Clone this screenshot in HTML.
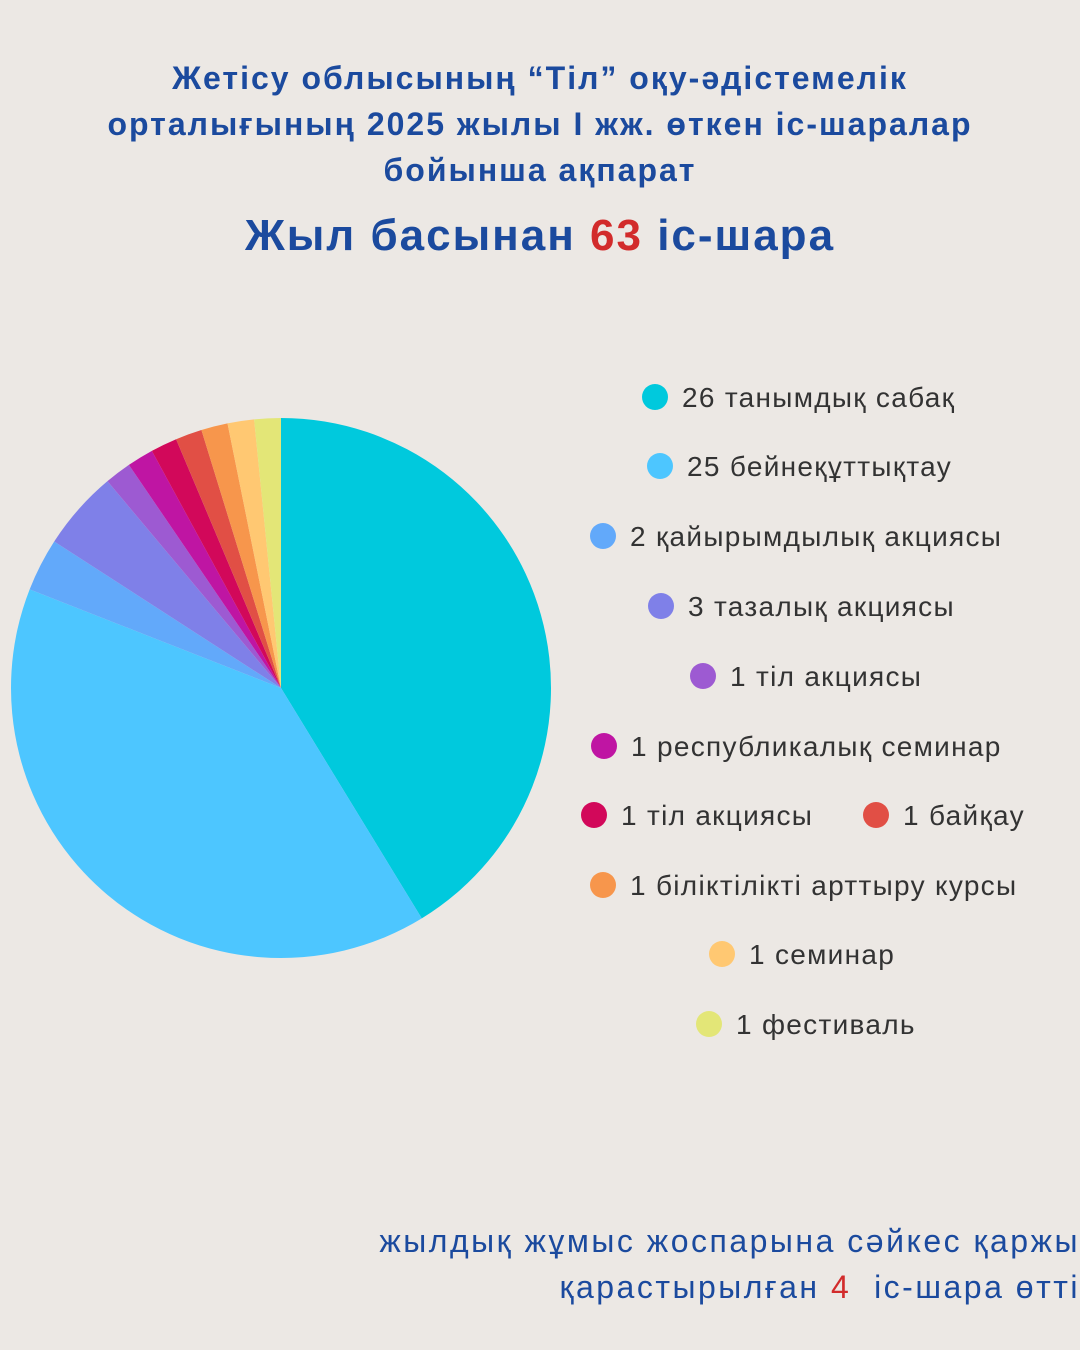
<!DOCTYPE html>
<html><head><meta charset="utf-8"><style>
body{margin:0;width:1080px;height:1350px;background:#ECE8E4;font-family:"Liberation Sans",sans-serif;overflow:hidden;position:relative}
.t{position:absolute;left:0;width:1080px;text-align:center;color:#1B4A9E;font-weight:bold;white-space:nowrap}
</style></head><body>
<div class="t" style="top:55px;font-size:32px;letter-spacing:2px;line-height:46px">Жетісу облысының “Тіл” оқу-әдістемелік<br>орталығының 2025 жылы I жж. өткен іс-шаралар<br>бойынша ақпарат</div>
<div class="t" style="top:210px;font-size:44px;letter-spacing:2px;line-height:52px">Жыл басынан <span style="color:#D22B2B">63</span> іс-шара</div>
<svg id="c" width="1080" height="1350" style="position:absolute;left:0;top:0"></svg>
<div style="position:absolute;right:0;top:1218px;text-align:right;color:#1B4A9E;font-size:32px;letter-spacing:2.5px;line-height:46px;white-space:nowrap">жылдық жұмыс жоспарына сәйкес қаржы<br>қарастырылған <span style="color:#D22B2B">4</span>&nbsp; іс-шара өтті</div>
<script>
const labels=["26 танымдық сабақ","25 бейнеқұттықтау","2 қайырымдылық акциясы","3 тазалық акциясы","1 тіл акциясы","1 республикалық семинар","1 тіл акциясы","1 байқау","1 біліктілікті арттыру курсы","1 семинар","1 фестиваль"];
const values=[26,25,2,3,1,1,1,1,1,1,1];
const colors=["#00C9DD","#4DC6FF","#62A9FA","#7F80E8","#9D5AD2","#BF15A3","#D2085A","#E14F45","#F7964C","#FFC872","#E3E677"];
const legendPos=[[655,397],[660,466],[603,536],[661,606],[703,676],[604,746],[594,815],[876,815],[603,885],[722,954],[709,1024]];
const svg=document.getElementById('c'),NS="http://www.w3.org/2000/svg";
const cx=281,cy=688,r=270,total=values.reduce((a,b)=>a+b,0);
let a=0;
values.forEach((v,i)=>{
  const a2=a+v/total*2*Math.PI;
  const x1=cx+r*Math.sin(a),y1=cy-r*Math.cos(a),x2=cx+r*Math.sin(a2),y2=cy-r*Math.cos(a2);
  const p=document.createElementNS(NS,'path');
  p.setAttribute('d',`M${cx},${cy}L${x1},${y1}A${r},${r} 0 ${a2-a>Math.PI?1:0} 1 ${x2},${y2}Z`);
  p.setAttribute('fill',colors[i]);
  
  
  svg.appendChild(p);a=a2;
  const [lx,ly]=legendPos[i];
  const c=document.createElementNS(NS,'circle');
  c.setAttribute('cx',lx);c.setAttribute('cy',ly);c.setAttribute('r',13);c.setAttribute('fill',colors[i]);
  
  
  svg.appendChild(c);
  const t=document.createElementNS(NS,'text');
  t.setAttribute('x',lx+27);t.setAttribute('y',ly+10);t.setAttribute('font-size','28');t.setAttribute('fill','#333');
  t.setAttribute('letter-spacing','1.3');
  t.setAttribute('font-family','Liberation Sans, sans-serif');
  t.textContent=labels[i];
  
  
  svg.appendChild(t);
});
</script>
</body></html>
